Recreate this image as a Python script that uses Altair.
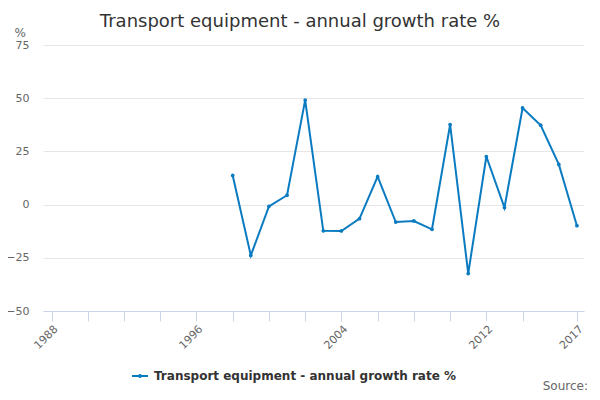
import altair as alt
import pandas as pd

# annual growth rate of transport equipment
years = list(range(1998, 2018))
growth = [13.7, -23.9, -0.8, 4.4, 49.1, -12.3, -12.4, -6.6, 13.1, -8.2,
          -7.7, -11.6, 37.6, -32.4, 22.6, -1.4, 45.4, 37.3, 18.9, -9.9]
series_name = "Transport equipment - annual growth rate %"

x_ticks = [1988, 1990, 1992, 1994, 1996, 1998, 2000, 2002, 2004, 2006,
           2008, 2010, 2012, 2014, 2017]
x_labels = [1988, 1996, 2004, 2012, 2017]
y_ticks = [-50, -25, 0, 25, 50, 75]

LINE = "#0a7bc1"
FONT = "DejaVu Sans"

data = pd.DataFrame({"year": years, "growth": growth, "series": series_name})
source = pd.DataFrame({"t": ["Source:"]})

label_expr = "indexof(%s, datum.value) >= 0 ? datum.value : ''" % str(x_labels)

line = alt.Chart(data).mark_line(
    strokeWidth=2,
    point=alt.OverlayMarkDef(filled=True, size=14, color=LINE),
).encode(
    alt.X("year:Q",
          scale=alt.Scale(domain=[1987.53, 2017.39], nice=False, zero=False),
          axis=alt.Axis(title=None, values=x_ticks, labelExpr=label_expr,
                        grid=False, domainColor="#ccd6eb", tickColor="#ccd6eb",
                        tickSize=10, labelAngle=-45, labelAlign="right",
                        labelBaseline="top", labelPadding=2,
                        labelColor="#666666", labelFontSize=11,
                        labelOverlap=False)),
    alt.Y("growth:Q",
          scale=alt.Scale(domain=[-50, 75], nice=False),
          axis=alt.Axis(title="%", values=y_ticks, domain=False, ticks=False,
                        gridColor="#e6e6e6", labelColor="#666666",
                        labelFontSize=11, labelPadding=14,
                        titleAngle=0, titleX=-29, titleY=-13,
                        titleAlign="left", titleBaseline="middle",
                        titleFontWeight="normal", titleFontSize=12,
                        titleColor="#666666")),
    alt.Color("series:N",
              scale=alt.Scale(domain=[series_name], range=[LINE]),
              legend=alt.Legend(title=None, orient="none", legendX=88,
                                legendY=322,
                                symbolType="M-1,0L1,0M-0.12,0a0.12,0.12 0 1,0 0.24,0a0.12,0.12 0 1,0 -0.24,0",
                                symbolSize=256, symbolStrokeWidth=2,
                                labelFontSize=12, labelFontWeight="bold",
                                labelColor="#333333", labelOffset=5,
                                labelLimit=400)),
)

note = alt.Chart(source).mark_text(
    align="right", baseline="alphabetic", fontSize=12, color="#666666"
).encode(
    text="t:N",
    x=alt.value(545),
    y=alt.value(345),
)

chart = alt.layer(line, note).properties(
    width=541,
    height=266,
    autosize=alt.AutoSizeParams(type="none"),
    padding={"left": 35, "top": 37, "right": 8, "bottom": 81},
    title=alt.TitleParams(series_name, fontSize=18, fontWeight="normal",
                          color="#333333", anchor="middle", dx=-13.5, dy=9,
                          frame="group"),
).configure(
    font=FONT,
).configure_view(
    stroke=None,
)

chart.save("out.html", embed_options={"renderer": "svg", "actions": False})
